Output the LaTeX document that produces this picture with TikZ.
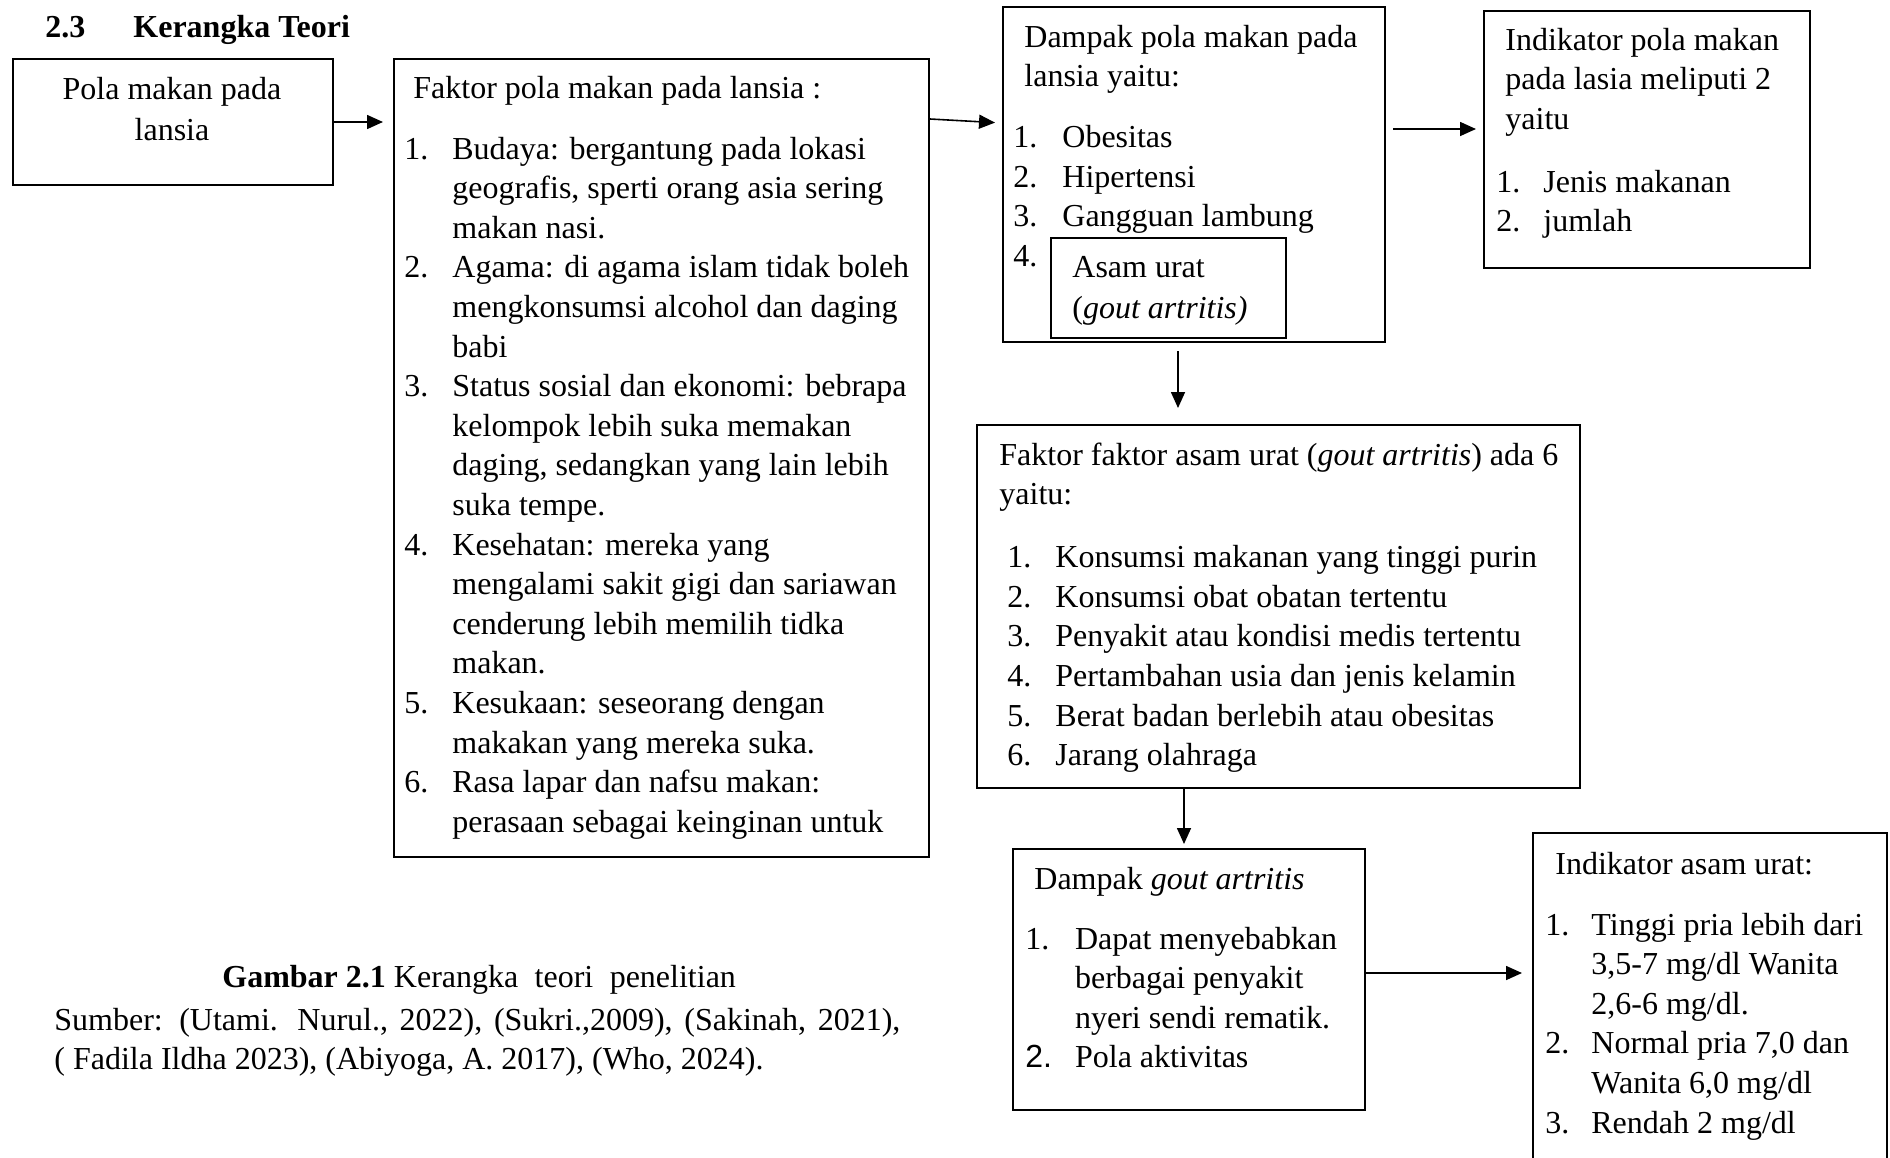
\documentclass[tikz,border=0pt]{standalone}
\usepackage{fontspec}
\setmainfont{Liberation Serif}
\setsansfont{Liberation Sans}
\usepackage{tikz}
\usetikzlibrary{fit,arrows.meta}

\tikzset{
	box/.style={draw, line width=1pt, inner sep=0pt},
	txt/.style={anchor=base west, inner sep=0pt, font=\fontsize{16}{19.8}\selectfont},
	arrow/.style={-{Stealth[length=8pt,width=7pt,inset=0pt]}, line width=0.8pt}
}

\begin{document}
\begin{tikzpicture}[x=0.5pt,y=-0.5pt]
				\clip (0,0) rectangle (1890,1157);
				% boxes
				\node[box, fit={(13,59) (333,185)}] (pola) {};
				\node[box, fit={(394,59) (929,857)}] (faktor) {};
				\node[box, fit={(1003,7) (1385,342)}] (dampak) {};
				\node[box, fit={(1051,238) (1286,338)}] (asamurat) {};
				\node[box, fit={(1484,11) (1810,268)}] (indpola) {};
				\node[box, fit={(977,425) (1580,788)}] (faktorasam) {};
				\node[box, fit={(1013,849) (1365,1110)}] (gout) {};
				\node[box, fit={(1533,833) (1887,1180)}] (indasam) {};
				% texts
				\node[txt] (judul) at (45,37) {\bfseries 2.3\hspace{24pt}Kerangka Teori};
				\node[txt, anchor=base] (pola-t) at (172,99) {\begin{tabular}[t]{@{}c@{}}
					Pola makan pada\\[0.7pt]
					lansia
				\end{tabular}};
				\node[txt] (faktor-t) at (404,98) {\begin{tabular}[t]{@{}l@{\hspace{12pt}}l@{}}
					\multicolumn{2}{@{\hspace{4.5pt}}l@{}}{Faktor pola makan pada lansia :}\\[10.7pt]
					1. & Budaya: bergantung pada lokasi\\
					& geografis, sperti orang asia sering\\
					& makan nasi.\\
					2. & Agama: di agama islam tidak boleh\\
					& mengkonsumsi alcohol dan daging\\
					& babi\\
					3. & Status sosial dan ekonomi: bebrapa\\
					& kelompok lebih suka memakan\\
					& daging, sedangkan yang lain lebih\\
					& suka tempe.\\
					4. & Kesehatan: mereka yang\\
					& mengalami sakit gigi dan sariawan\\
					& cenderung lebih memilih tidka\\
					& makan.\\
					5. & Kesukaan: seseorang dengan\\
					& makakan yang mereka suka.\\
					6. & Rasa lapar dan nafsu makan:\\
					& perasaan sebagai keinginan untuk
				\end{tabular}};
				\node[txt] (dampak-t) at (1013,47) {\begin{tabular}[t]{@{}l@{\hspace{12.5pt}}l@{}}
					\multicolumn{2}{@{\hspace{5.5pt}}l@{}}{Dampak pola makan pada}\\
					\multicolumn{2}{@{\hspace{5.5pt}}l@{}}{lansia yaitu:}\\[10.7pt]
					1. & Obesitas\\
					2. & Hipertensi\\
					3. & Gangguan lambung\\
					4. &
				\end{tabular}};
				\node[txt] (asamurat-t) at (1072,277) {\begin{tabular}[t]{@{}l@{}}
					Asam urat\\[1pt]
					(\textit{gout artritis)}
				\end{tabular}};
				\node[txt] (indpola-t) at (1496,50) {\begin{tabular}[t]{@{}l@{\hspace{11.5pt}}l@{}}
					\multicolumn{2}{@{\hspace{4.5pt}}l@{}}{Indikator pola makan}\\
					\multicolumn{2}{@{\hspace{4.5pt}}l@{}}{pada lasia meliputi 2}\\
					\multicolumn{2}{@{\hspace{4.5pt}}l@{}}{yaitu}\\[11.7pt]
					1. & Jenis makanan\\
					2. & jumlah
				\end{tabular}};
				\node[txt] (faktorasam-t) at (999,465) {\begin{tabular}[t]{@{\hspace{4pt}}l@{\hspace{12pt}}l@{}}
					\multicolumn{2}{@{}l@{}}{Faktor faktor asam urat (\textit{gout artritis}) ada 6}\\
					\multicolumn{2}{@{}l@{}}{yaitu:}\\[11.7pt]
					1. & Konsumsi makanan yang tinggi purin\\
					2. & Konsumsi obat obatan tertentu\\
					3. & Penyakit atau kondisi medis tertentu\\
					4. & Pertambahan usia dan jenis kelamin\\
					5. & Berat badan berlebih atau obesitas\\
					6. & Jarang olahraga
				\end{tabular}};
				\node[txt] (gout-t) at (1025,889) {\begin{tabular}[t]{@{}l@{\hspace{11.5pt}}l@{}}
					\multicolumn{2}{@{\hspace{4.5pt}}l@{}}{Dampak \textit{gout artritis}}\\[10.2pt]
					1. & Dapat menyebabkan\\
					& berbagai penyakit\\
					& nyeri sendi rematik.\\
					{\sffamily 2.} & Pola aktivitas
				\end{tabular}};
				\node[txt] (indasam-t) at (1545,874) {\begin{tabular}[t]{@{}l@{\hspace{11pt}}l@{}}
					\multicolumn{2}{@{\hspace{5pt}}l@{}}{Indikator asam urat:}\\[10.7pt]
					1. & Tinggi pria lebih dari\\
					& 3,5-7 mg/dl Wanita\\
					& 2,6-6 mg/dl.\\
					2. & Normal pria 7,0 dan\\
					& Wanita 6,0 mg/dl\\
					3. & Rendah 2 mg/dl
				\end{tabular}};
				% caption
				\node[txt] (gambar) at (222,987) {\textbf{Gambar 2.1} \makebox[171pt][s]{Kerangka teori penelitian}};
				\node[txt] (sumber) at (54,1030) {\begin{tabular}[t]{@{}l@{}}
					\makebox[423pt][s]{Sumber: (Utami. Nurul., 2022), (Sukri.,2009), (Sakinah, 2021),}\\
					( Fadila Ildha 2023), (Abiyoga, A. 2017), (Who, 2024).
				\end{tabular}};
				% connectors
				\coordinate (b-out) at ([yshift=-30.5pt]faktor.north east);
				\coordinate (c-in) at ([yshift=-58.5pt]dampak.north west);
				\coordinate (c-out) at ([yshift=-61.5pt]dampak.north east);
				\coordinate (c-down) at ([xshift=88pt]dampak.south west);
				\coordinate (e-down) at ([xshift=104pt]faktorasam.south west);
				\coordinate (f-out) at ([yshift=-62.5pt]gout.north east);
				\path[arrow]
				(pola.east) edge [shorten >=5pt] (pola.east -| faktor.west)
				(b-out) edge [shorten >=3.5pt] (c-in)
				(c-out) edge [shorten <=3.5pt, shorten >=3.5pt] (c-out -| indpola.west)
				(c-down) edge [shorten <=4pt, shorten >=8pt] (c-down |- faktorasam.north)
				(e-down) edge [shorten >=2pt] (e-down |- gout.north)
				(f-out) edge [shorten >=5pt] (f-out -| indasam.west);
			\end{tikzpicture}
\end{document}
